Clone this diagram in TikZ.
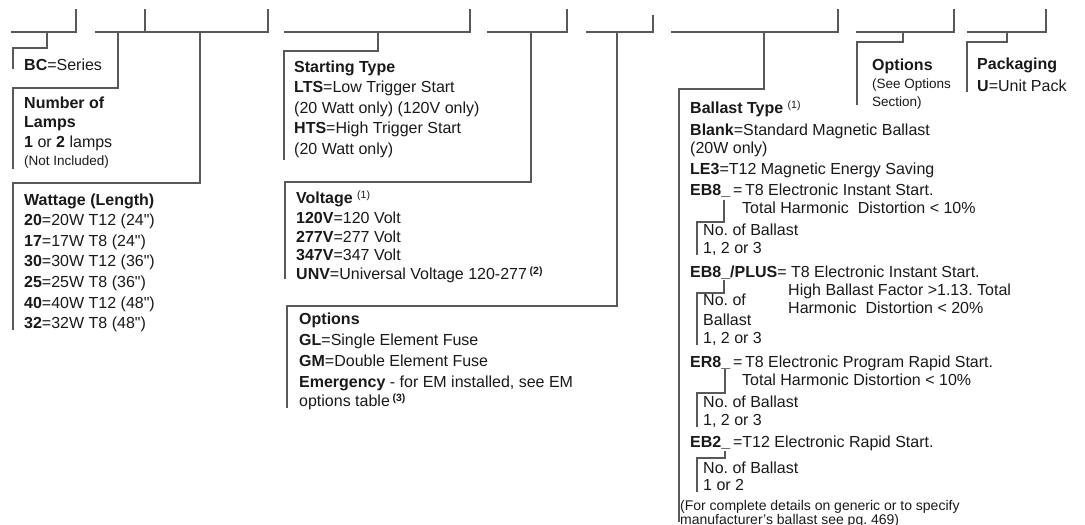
\documentclass[tikz,border=0pt]{standalone}
\usepackage{fontspec}
\setmainfont{Liberation Sans}
\frenchspacing
\newcommand\fnote[1]{\raisebox{5pt}{\fontsize{10.5}{10.5}\selectfont(#1)}}
\newcommand\inch{\textquotedbl}
\tikzset{
  leg/.style={draw=black!65, line width=1.1pt},
  txt/.style={anchor=base west, inner sep=0pt, text=black!90, font=\fontsize{16}{19}\selectfont},
  note/.style={anchor=base west, inner sep=0pt, text=black!90, font=\fontsize{13.5}{15}\selectfont}
}
\begin{document}
\begin{tikzpicture}[x=1pt,y=-1pt]
\useasboundingbox (0,0) rectangle (1085,525);
% top bars
\draw[leg] (11,32) -- (76,32) -- (76,9);
\draw[leg] (95,32) -- (268,32) -- (268,9);
\draw[leg] (145,32) -- (145,9);
\draw[leg] (284,32) -- (470,32) -- (470,9);
\draw[leg] (487,32) -- (567,32) -- (567,9);
\draw[leg] (586,32) -- (653,32) -- (653,15);
\draw[leg] (671,32) -- (838,32) -- (838,9);
\draw[leg] (856,32) -- (954,32) -- (954,9);
\draw[leg] (967,32) -- (1046,32) -- (1046,9);
% legs down to the boxes
\draw[leg] (47,32) |- (13,48) -- (13,69);
\draw[leg] (118,32) |- (13,88) -- (13,169);
\draw[leg] (200,32) |- (13,183) -- (13,330);
\draw[leg] (378,32) |- (284,51) -- (284,160);
\draw[leg] (531,32) |- (285,182) -- (285,279);
\draw[leg] (617,32) |- (287,306) -- (287,408);
\draw[leg] (764,32) |- (679,89) -- (679,522);
\draw[leg] (903,32) |- (857,42) -- (857,105);
\draw[leg] (1007,32) |- (967,42) -- (967,92);
% small legs in the ballast box
\draw[leg] (724,200) |- (697,222) -- (697,255);
\draw[leg] (724,280) |- (697,293) -- (697,345);
\draw[leg] (725,369) |- (697,393) -- (697,427);
\draw[leg] (725,451) |- (697,458) -- (697,492);
% series
\node[txt] (bc) at (24,70) {\textbf{BC}=Series};
% lamps
\node[txt] (lmp1) at (24,108) {\textbf{Number of}};
\node[txt] (lmp2) at (24,127) {\textbf{Lamps}};
\node[txt] (lmp3) at (24,147) {\textbf{1} or \textbf{2} lamps};
\node[note] (lmp4) at (24,165) {(Not Included)};
% wattage
\node[txt] (wat0) at (24,205) {\textbf{Wattage (Length)}};
\node[txt] (wat1) at (24,225.5) {\textbf{20}=20W T12 (24\inch)};
\node[txt] (wat2) at (24,246) {\textbf{17}=17W T8 (24\inch)};
\node[txt] (wat3) at (24,266.5) {\textbf{30}=30W T12 (36\inch)};
\node[txt] (wat4) at (24,287) {\textbf{25}=25W T8 (36\inch)};
\node[txt] (wat5) at (24,308) {\textbf{40}=40W T12 (48\inch)};
\node[txt] (wat6) at (24,328.5) {\textbf{32}=32W T8 (48\inch)};
% starting type
\node[txt] (st0) at (294,72) {\textbf{Starting Type}};
\node[txt] (st1) at (294,92.5) {\textbf{LTS}=Low Trigger Start};
\node[txt] (st2) at (294,113) {(20 Watt only) (120V only)};
\node[txt] (st3) at (294,133.5) {\textbf{HTS}=High Trigger Start};
\node[txt] (st4) at (294,154) {(20 Watt only)};
% voltage
\node[txt] (vlt0) at (296,203) {\textbf{Voltage} \fnote{1}};
\node[txt] (vlt1) at (296,223) {\textbf{120V}=120 Volt};
\node[txt] (vlt2) at (296,242) {\textbf{277V}=277 Volt};
\node[txt] (vlt3) at (296,260.5) {\textbf{347V}=347 Volt};
\node[txt] (vlt4) at (296,279) {\textbf{UNV}=Universal Voltage 120-277\,\textbf{\fnote{2}}};
% options
\node[txt] (opt0) at (299,324) {\textbf{Options}};
\node[txt] (opt1) at (299,345) {\textbf{GL}=Single Element Fuse};
\node[txt] (opt2) at (299,366) {\textbf{GM}=Double Element Fuse};
\node[txt] (opt3) at (299,387) {\textbf{Emergency} - for EM installed, see EM};
\node[txt] (opt4) at (299,406) {options table\,\textbf{\fnote{3}}};
% ballast type
\node[txt] (bal0) at (690,113) {\textbf{Ballast Type} \fnote{1}};
\node[txt] (bal1) at (690,135) {\textbf{Blank}=Standard Magnetic Ballast};
\node[txt] (bal2) at (690,153) {(20W only)};
\node[txt] (bal3) at (690,174) {\textbf{LE3}=T12 Magnetic Energy Saving};
\node[txt] (eb1) at (690,195) {\textbf{EB8\_}\,=\,T8 Electronic Instant Start.};
\node[txt] (eb2) at (742,213) {Total Harmonic\ \ Distortion < 10\%};
\node[txt] (eb3) at (703,235) {No. of Ballast};
\node[txt] (eb4) at (703,253) {1, 2 or 3};
\node[txt] (pl1) at (690,277) {\textbf{EB8\_/PLUS}= T8 Electronic Instant Start.};
\node[txt] (pl2) at (788,295) {High Ballast Factor >1.13. Total};
\node[txt] (pl3) at (788,313) {Harmonic\ \ Distortion < 20\%};
\node[txt] (pl4) at (703,305) {No. of};
\node[txt] (pl5) at (703,325) {Ballast};
\node[txt] (pl6) at (703,343) {1, 2 or 3};
\node[txt] (er1) at (690,367) {\textbf{ER8\_}\,=\,T8 Electronic Program Rapid Start.};
\node[txt] (er2) at (742,385) {Total Harmonic Distortion < 10\%};
\node[txt] (er3) at (703,407) {No. of Ballast};
\node[txt] (er4) at (703,425) {1, 2 or 3};
\node[txt] (et1) at (690,447) {\textbf{EB2\_}\,=T12 Electronic Rapid Start.};
\node[txt] (et2) at (703,473) {No. of Ballast};
\node[txt] (et3) at (703,490) {1 or 2};
\node[note, font=\fontsize{14}{15}\selectfont] (bal4) at (680,510) {(For complete details on generic or to specify};
\node[note, font=\fontsize{14}{15}\selectfont] (bal5) at (680,524) {manufacturer's ballast see pg. 469)};
% options and packaging
\node[txt] (opx0) at (872,70) {\textbf{Options}};
\node[note] (opx1) at (872,88) {(See Options};
\node[note] (opx2) at (872,106) {Section)};
\node[txt] (pak0) at (977,69.5) {\textbf{Packaging}};
\node[txt] (pak1) at (977,91.5) {\textbf{U}=Unit Pack};
\end{tikzpicture}
\end{document}
